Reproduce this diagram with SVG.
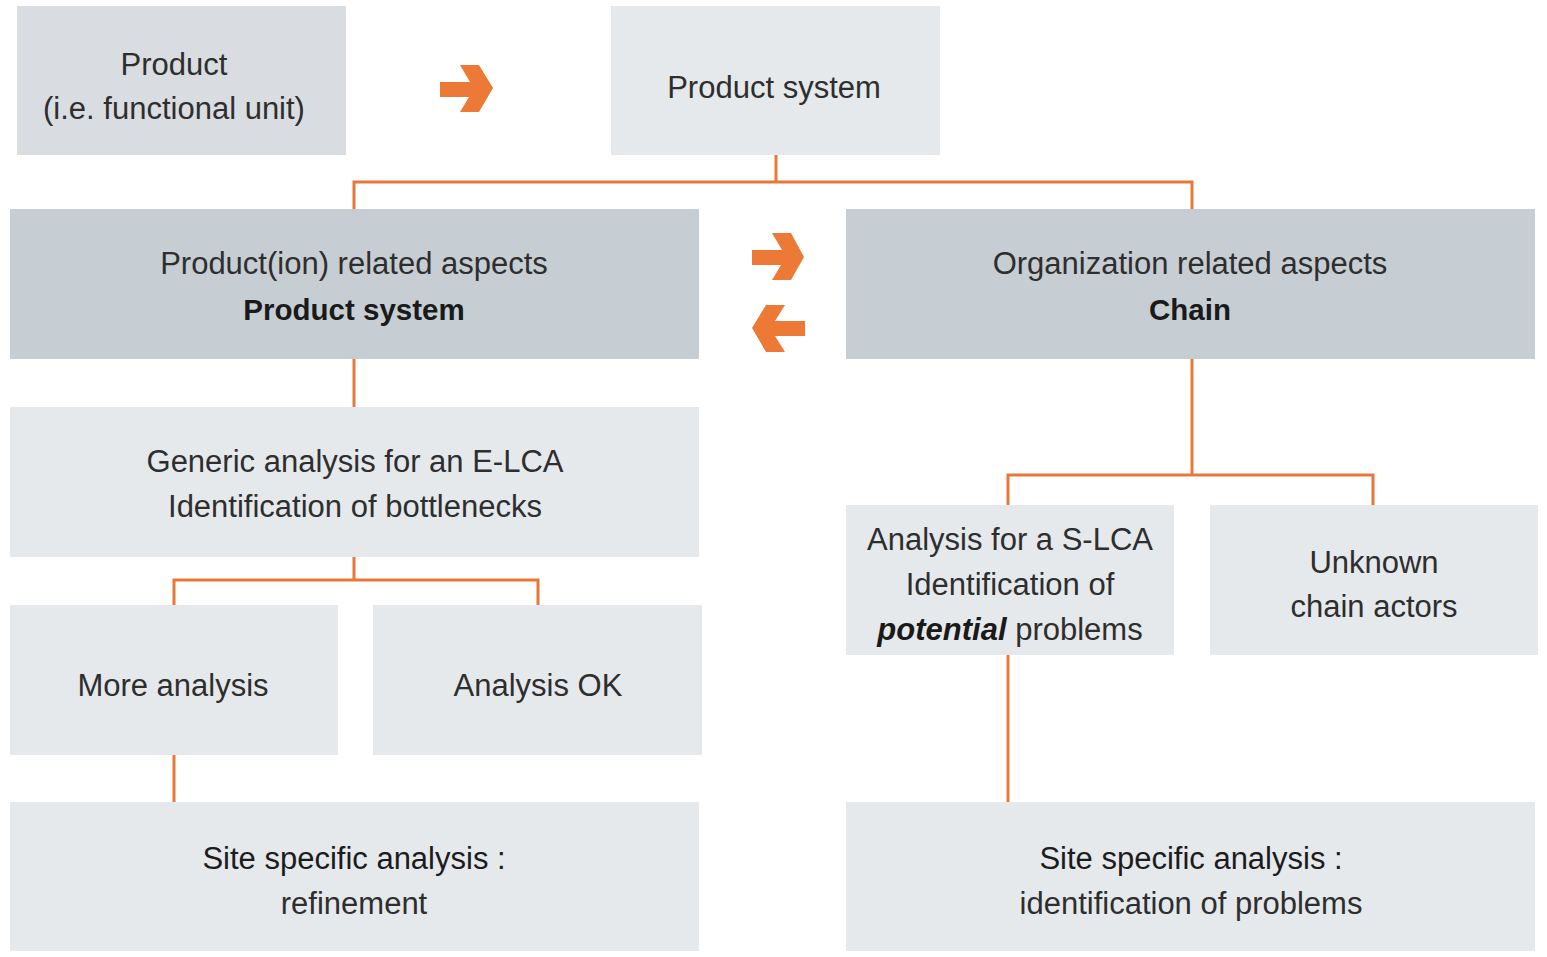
<svg xmlns="http://www.w3.org/2000/svg" width="1547" height="957" viewBox="0 0 1547 957">
<style>
.bg{fill:#ffffff}
.lt{fill:#e6e9ec}
.md{fill:#d9dde1}
.dk{fill:#c6cdd3}
.t{font-family:"Liberation Sans",Arial,sans-serif;font-size:31px;fill:#2e2e2e;text-anchor:middle}
.r{fill:#1c1c1c}
.b{font-weight:bold;font-size:29.5px;fill:#1a1a1a}
.bi{font-weight:bold;font-style:italic;fill:#1a1a1a}
.ln{fill:none;stroke:#e8783a;stroke-width:3}
.ar{fill:#ec7a36}
</style>
<rect class="bg" x="0" y="0" width="1547" height="957"/>
<g id="connectors">
<path class="ln" d="M776,155 V182 M354,209 V182 H1192 V209"/>
<path class="ln" d="M354,359 V407"/>
<path class="ln" d="M354,557 V580 M174,605 V580 H538 V605"/>
<path class="ln" d="M174,755 V802"/>
<path class="ln" d="M1192,359 V475 M1008,505 V475 H1373 V505"/>
<path class="ln" d="M1008,655 V802"/>
<polygon class="ar" points="440,82 470,82 460,65 479,65 493,88 479,112 460,112 469,97 440,97"/>
<polygon class="ar" points="752,250 782,250 772,233 791,233 804,257 791,280 772,280 781,265 752,265"/>
<polygon class="ar" points="805,321 775,321 785,305 766,305 752,328 766,352 785,352 775,336 805,336"/>
</g>
<g id="product">
<rect class="md" x="17" y="6" width="329" height="149"/>
<text class="t" x="174" y="75">Product</text>
<text class="t" x="174" y="119">(i.e. functional unit)</text>
</g>
<g id="product-system">
<rect class="lt" x="611" y="6" width="329" height="149"/>
<text class="t" x="774" y="98">Product system</text>
</g>
<g id="production-aspects">
<rect class="dk" x="10" y="209" width="689" height="150"/>
<text class="t" x="354" y="274">Product(ion) related aspects</text>
<text class="t b" x="354" y="320">Product system</text>
</g>
<g id="organization-aspects">
<rect class="dk" x="846" y="209" width="689" height="150"/>
<text class="t" x="1190" y="274">Organization related aspects</text>
<text class="t b" x="1190" y="320">Chain</text>
</g>
<g id="generic-analysis">
<rect class="lt" x="10" y="407" width="689" height="150"/>
<text class="t" x="355" y="472">Generic analysis for an E-LCA</text>
<text class="t" x="355" y="517">Identification of bottlenecks</text>
</g>
<g id="more-analysis">
<rect class="lt" x="10" y="605" width="328" height="150"/>
<text class="t" x="173" y="696">More analysis</text>
</g>
<g id="analysis-ok">
<rect class="lt" x="373" y="605" width="329" height="150"/>
<text class="t" x="538" y="696">Analysis OK</text>
</g>
<g id="slca-analysis">
<rect class="lt" x="846" y="505" width="328" height="150"/>
<text class="t" x="1010" y="550">Analysis for a S-LCA</text>
<text class="t" x="1010" y="595">Identification of</text>
<text class="t" x="1010" y="640"><tspan class="bi">potential</tspan> problems</text>
</g>
<g id="unknown-actors">
<rect class="lt" x="1210" y="505" width="328" height="150"/>
<text class="t" x="1374" y="573">Unknown</text>
<text class="t" x="1374" y="617">chain actors</text>
</g>
<g id="site-refinement">
<rect class="lt" x="10" y="802" width="689" height="149"/>
<text class="t r" x="354" y="869">Site specific analysis :</text>
<text class="t" x="354" y="914">refinement</text>
</g>
<g id="site-problems">
<rect class="lt" x="846" y="802" width="689" height="149"/>
<text class="t r" x="1191" y="869">Site specific analysis :</text>
<text class="t" x="1191" y="914">identification of problems</text>
</g>
</svg>
